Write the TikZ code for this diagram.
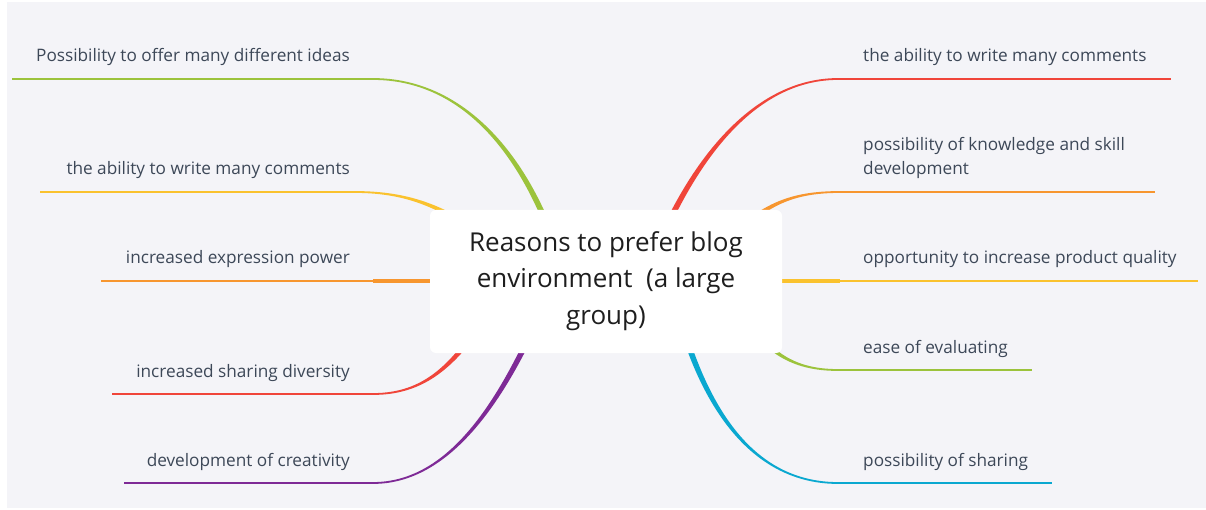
\documentclass[tikz,border=0pt]{standalone}
\usepackage{fontspec}
\setmainfont{Open Sans}
\usetikzlibrary{calc}
\definecolor{bgc}{HTML}{F4F4F8}
\definecolor{cgreen}{HTML}{9CC33C}
\definecolor{cyellow}{HTML}{FAC22E}
\definecolor{corange}{HTML}{F7962F}
\definecolor{cred}{HTML}{F0453A}
\definecolor{cpurple}{HTML}{7E2A96}
\definecolor{cblue}{HTML}{0AA8D0}
\definecolor{leaftxt}{HTML}{3D4858}
\definecolor{maintxt}{HTML}{1E1E1E}
\newcommand\mybranch[6]{%
  \coordinate (l1) at ($(#2)!0.9pt!90:(#3)$);
  \coordinate (l2) at ($(#2)!0.9pt!-90:(#3)$);
  \coordinate (a1) at ($(#5)!#6!-90:(#4)$);
  \coordinate (a2) at ($(#5)!#6!90:(#4)$);
  \fill[#1] (l1) .. controls ($(#3)+(l1)-(#2)$) and ($(#4)+(a1)-(#5)$) .. (a1)
    -- (a2) .. controls ($(#4)+(a2)-(#5)$) and ($(#3)+(l2)-(#2)$) .. (l2) -- cycle;
}
\tikzset{
  leafline/.style={line width=1.8pt},
  stemline/.style={line width=3.6pt},
  leafL/.style={font=\fontsize{17.2}{24}\selectfont, text=leaftxt, anchor=base east, inner sep=0pt},
  leafR/.style={font=\fontsize{17.2}{24}\selectfont, text=leaftxt, anchor=base west, inner sep=0pt, align=left},
  centerbox/.style={fill=white, rounded corners=6pt},
}
\begin{document}
\begin{tikzpicture}[x=1pt,y=-1pt]
\useasboundingbox (0,0) rectangle (1206,510);
\fill[bgc] (7,2) rectangle (1206,508);

% ---------- left side ----------
% green
\coordinate (gE) at (12,79);
\coordinate (gL) at (373,79);
\coordinate (gc1) at (460,79);
\coordinate (gc2) at (525,150);
\coordinate (gA) at (560,260);
\draw[cgreen, leafline] (gE) -- (gL);
\mybranch{cgreen}{gL}{gc1}{gc2}{gA}{3pt}
% yellow
\coordinate (yE) at (40,192);
\coordinate (yL) at (355,192);
\coordinate (yc1) at (410,192);
\coordinate (yc2) at (450,208);
\coordinate (yA) at (500,250);
\draw[cyellow, leafline] (yE) -- (yL);
\mybranch{cyellow}{yL}{yc1}{yc2}{yA}{2.8pt}
% orange
\coordinate (oE) at (101,281);
\coordinate (oL) at (373,281);
\coordinate (oA) at (450,281);
\draw[corange, leafline] (oE) -- (oL);
\draw[corange, stemline] (oL) -- (oA);
% red
\coordinate (rE) at (112,394);
\coordinate (rL) at (373,394);
\coordinate (rc1) at (425,394);
\coordinate (rc2) at (455,365);
\coordinate (rA) at (490,310);
\draw[cred, leafline] (rE) -- (rL);
\mybranch{cred}{rL}{rc1}{rc2}{rA}{2.8pt}
% purple
\coordinate (pE) at (124,483);
\coordinate (pL) at (373,483);
\coordinate (pc1) at (450,483);
\coordinate (pc2) at (505,400);
\coordinate (pA) at (550,290);
\draw[cpurple, leafline] (pE) -- (pL);
\mybranch{cpurple}{pL}{pc1}{pc2}{pA}{3pt}

% ---------- right side ----------
% red
\coordinate (RrE) at (1171,79);
\coordinate (RrL) at (838,79);
\coordinate (Rrc1) at (760,79);
\coordinate (Rrc2) at (695,150);
\coordinate (RrA) at (650,265);
\draw[cred, leafline] (RrL) -- (RrE);
\mybranch{cred}{RrL}{Rrc1}{Rrc2}{RrA}{3pt}
% orange
\coordinate (RoE) at (1155,192);
\coordinate (RoL) at (840,192);
\coordinate (Roc1) at (790,192);
\coordinate (Roc2) at (760,205);
\coordinate (RoA) at (720,250);
\draw[corange, leafline] (RoL) -- (RoE);
\mybranch{corange}{RoL}{Roc1}{Roc2}{RoA}{2.8pt}
% yellow
\coordinate (RyE) at (1198,281);
\coordinate (RyL) at (840,281);
\coordinate (RyA) at (760,281);
\draw[cyellow, leafline] (RyL) -- (RyE);
\draw[cyellow, stemline] (RyA) -- (RyL);
% green
\coordinate (RgE) at (1032,370);
\coordinate (RgL) at (838,370);
\coordinate (Rgc1) at (790,370);
\coordinate (Rgc2) at (765,350);
\coordinate (RgA) at (740,310);
\draw[cgreen, leafline] (RgL) -- (RgE);
\mybranch{cgreen}{RgL}{Rgc1}{Rgc2}{RgA}{2.8pt}
% blue
\coordinate (RbE) at (1052,483);
\coordinate (RbL) at (838,483);
\coordinate (Rbc1) at (760,483);
\coordinate (Rbc2) at (705,420);
\coordinate (RbA) at (675,300);
\draw[cblue, leafline] (RbL) -- (RbE);
\mybranch{cblue}{RbL}{Rbc1}{Rbc2}{RbA}{3pt}

% ---------- centre ----------
\fill[centerbox] (430,210) rectangle (782,353);
\node[font=\fontsize{26}{36.5}\selectfont, text=maintxt, align=center] (center) at (606,281)
  {Reasons to prefer blog\\environment\ \ (a large\\group)};

% ---------- leaf texts ----------
\node[leafL] (t1) at (350,62) {Possibility to offer many different ideas};
\node[leafL] (t2) at (350,175) {the ability to write many comments};
\node[leafL] (t3) at (350,264) {increased expression power};
\node[leafL] (t4) at (350,377) {increased sharing diversity};
\node[leafL] (t5) at (350,466) {development of creativity};
\node[leafR] (u1) at (863,62) {the ability to write many comments};
\node[leafR] (u2) at (863,175) {possibility of knowledge and skill\\development};
\node[leafR] (u3) at (863,264) {opportunity to increase product quality};
\node[leafR] (u4) at (863,353) {ease of evaluating};
\node[leafR] (u5) at (863,466) {possibility of sharing};
\end{tikzpicture}
\end{document}
